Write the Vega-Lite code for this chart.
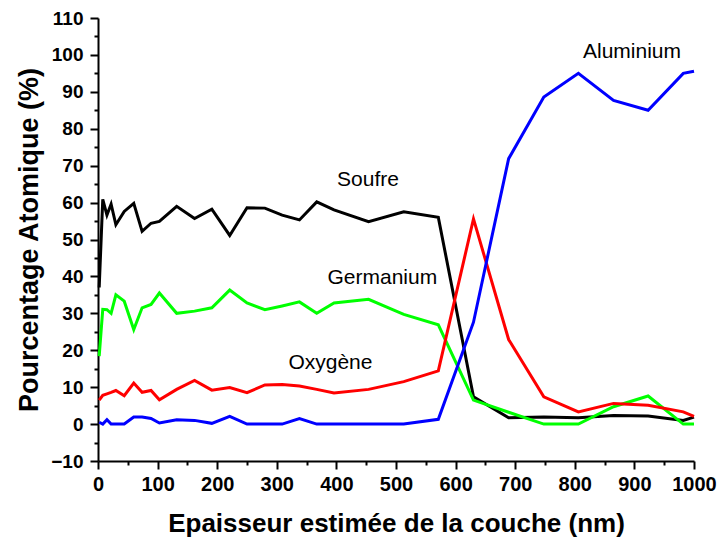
{
  "$schema": "https://vega.github.io/schema/vega-lite/v6.json",
  "width": 596,
  "height": 443,
  "autosize": "none",
  "padding": {"left": 98, "top": 18, "right": 31, "bottom": 86},
  "background": "white",
  "config": {"view": {"stroke": null}, "font": "Liberation Sans"},
  "datasets": {
    "profile": [
      {"x": 2, "el": "Soufre", "v": 37}, {"x": 2, "el": "Germanium", "v": 18.4}, {"x": 2, "el": "Oxygène", "v": 6.5}, {"x": 2, "el": "Aluminium", "v": 0.5},
      {"x": 8, "el": "Soufre", "v": 60.9}, {"x": 8, "el": "Germanium", "v": 31.1}, {"x": 8, "el": "Oxygène", "v": 7.8}, {"x": 8, "el": "Aluminium", "v": 0},
      {"x": 15, "el": "Soufre", "v": 56.6}, {"x": 15, "el": "Germanium", "v": 31.0}, {"x": 15, "el": "Oxygène", "v": 8.2}, {"x": 15, "el": "Aluminium", "v": 1.2},
      {"x": 22, "el": "Soufre", "v": 59.6}, {"x": 22, "el": "Germanium", "v": 30.0}, {"x": 22, "el": "Oxygène", "v": 8.6}, {"x": 22, "el": "Aluminium", "v": 0},
      {"x": 30, "el": "Soufre", "v": 54.0}, {"x": 30, "el": "Germanium", "v": 35.0}, {"x": 30, "el": "Oxygène", "v": 9.1}, {"x": 30, "el": "Aluminium", "v": 0},
      {"x": 44, "el": "Soufre", "v": 57.6}, {"x": 44, "el": "Germanium", "v": 33.3}, {"x": 44, "el": "Oxygène", "v": 7.7}, {"x": 44, "el": "Aluminium", "v": 0},
      {"x": 60, "el": "Soufre", "v": 59.8}, {"x": 60, "el": "Germanium", "v": 25.6}, {"x": 60, "el": "Oxygène", "v": 11.1}, {"x": 60, "el": "Aluminium", "v": 1.9},
      {"x": 74, "el": "Soufre", "v": 52.2}, {"x": 74, "el": "Germanium", "v": 31.5}, {"x": 74, "el": "Oxygène", "v": 8.6}, {"x": 74, "el": "Aluminium", "v": 1.9},
      {"x": 89, "el": "Soufre", "v": 54.4}, {"x": 89, "el": "Germanium", "v": 32.4}, {"x": 89, "el": "Oxygène", "v": 9.1}, {"x": 89, "el": "Aluminium", "v": 1.5},
      {"x": 103, "el": "Soufre", "v": 54.9}, {"x": 103, "el": "Germanium", "v": 35.5}, {"x": 103, "el": "Oxygène", "v": 6.6}, {"x": 103, "el": "Aluminium", "v": 0.3},
      {"x": 132, "el": "Soufre", "v": 59.0}, {"x": 132, "el": "Germanium", "v": 30.0}, {"x": 132, "el": "Oxygène", "v": 9.4}, {"x": 132, "el": "Aluminium", "v": 1.2},
      {"x": 162, "el": "Soufre", "v": 55.7}, {"x": 162, "el": "Germanium", "v": 30.6}, {"x": 162, "el": "Oxygène", "v": 11.8}, {"x": 162, "el": "Aluminium", "v": 1.0},
      {"x": 191, "el": "Soufre", "v": 58.2}, {"x": 191, "el": "Germanium", "v": 31.5}, {"x": 191, "el": "Oxygène", "v": 9.2}, {"x": 191, "el": "Aluminium", "v": 0.2},
      {"x": 221, "el": "Soufre", "v": 51.1}, {"x": 221, "el": "Germanium", "v": 36.3}, {"x": 221, "el": "Oxygène", "v": 9.9}, {"x": 221, "el": "Aluminium", "v": 2.1},
      {"x": 250, "el": "Soufre", "v": 58.6}, {"x": 250, "el": "Germanium", "v": 32.8}, {"x": 250, "el": "Oxygène", "v": 8.5}, {"x": 250, "el": "Aluminium", "v": 0},
      {"x": 280, "el": "Soufre", "v": 58.5}, {"x": 280, "el": "Germanium", "v": 31.0}, {"x": 280, "el": "Oxygène", "v": 10.6}, {"x": 280, "el": "Aluminium", "v": 0},
      {"x": 309, "el": "Soufre", "v": 56.6}, {"x": 309, "el": "Germanium", "v": 32.0}, {"x": 309, "el": "Oxygène", "v": 10.7}, {"x": 309, "el": "Aluminium", "v": 0},
      {"x": 338, "el": "Soufre", "v": 55.3}, {"x": 338, "el": "Germanium", "v": 33.1}, {"x": 338, "el": "Oxygène", "v": 10.3}, {"x": 338, "el": "Aluminium", "v": 1.5},
      {"x": 367, "el": "Soufre", "v": 60.2}, {"x": 367, "el": "Germanium", "v": 30.0}, {"x": 367, "el": "Oxygène", "v": 9.4}, {"x": 367, "el": "Aluminium", "v": 0},
      {"x": 396, "el": "Soufre", "v": 58.0}, {"x": 396, "el": "Germanium", "v": 32.8}, {"x": 396, "el": "Oxygène", "v": 8.4}, {"x": 396, "el": "Aluminium", "v": 0},
      {"x": 454, "el": "Soufre", "v": 54.8}, {"x": 454, "el": "Germanium", "v": 33.8}, {"x": 454, "el": "Oxygène", "v": 9.4}, {"x": 454, "el": "Aluminium", "v": 0},
      {"x": 513, "el": "Soufre", "v": 57.5}, {"x": 513, "el": "Germanium", "v": 29.7}, {"x": 513, "el": "Oxygène", "v": 11.5}, {"x": 513, "el": "Aluminium", "v": 0},
      {"x": 571, "el": "Soufre", "v": 56.0}, {"x": 571, "el": "Germanium", "v": 26.9}, {"x": 571, "el": "Oxygène", "v": 14.4}, {"x": 571, "el": "Aluminium", "v": 1.3},
      {"x": 630, "el": "Soufre", "v": 7.4}, {"x": 630, "el": "Germanium", "v": 6.5}, {"x": 630, "el": "Oxygène", "v": 55.6}, {"x": 630, "el": "Aluminium", "v": 27.6},
      {"x": 689, "el": "Soufre", "v": 1.7}, {"x": 689, "el": "Germanium", "v": 3.2}, {"x": 689, "el": "Oxygène", "v": 22.9}, {"x": 689, "el": "Aluminium", "v": 71.9},
      {"x": 748, "el": "Soufre", "v": 1.9}, {"x": 748, "el": "Germanium", "v": 0}, {"x": 748, "el": "Oxygène", "v": 7.4}, {"x": 748, "el": "Aluminium", "v": 88.6},
      {"x": 806, "el": "Soufre", "v": 1.7}, {"x": 806, "el": "Germanium", "v": 0}, {"x": 806, "el": "Oxygène", "v": 3.3}, {"x": 806, "el": "Aluminium", "v": 95.0},
      {"x": 865, "el": "Soufre", "v": 2.3}, {"x": 865, "el": "Germanium", "v": 4.7}, {"x": 865, "el": "Oxygène", "v": 5.6}, {"x": 865, "el": "Aluminium", "v": 87.7},
      {"x": 923, "el": "Soufre", "v": 2.2}, {"x": 923, "el": "Germanium", "v": 7.6}, {"x": 923, "el": "Oxygène", "v": 5.1}, {"x": 923, "el": "Aluminium", "v": 85.0},
      {"x": 982, "el": "Soufre", "v": 1.0}, {"x": 982, "el": "Germanium", "v": 0}, {"x": 982, "el": "Oxygène", "v": 3.3}, {"x": 982, "el": "Aluminium", "v": 95.0},
      {"x": 1000, "el": "Soufre", "v": 1.9}, {"x": 1000, "el": "Germanium", "v": 0}, {"x": 1000, "el": "Oxygène", "v": 2.1}, {"x": 1000, "el": "Aluminium", "v": 95.6}
    ],
    "labels": [
      {"x": 453, "v": 66.2, "label": "Soufre"},
      {"x": 477, "v": 39.7, "label": "Germanium"},
      {"x": 390, "v": 16.5, "label": "Oxygène"},
      {"x": 896, "v": 100.9, "label": "Aluminium"}
    ]
  },
  "resolve": {"axis": {"x": "independent", "y": "independent"}},
  "layer": [
    {
      "data": {"name": "profile"},
      "mark": {"type": "line", "opacity": 0},
      "encoding": {
        "x": {"field": "x", "type": "quantitative", "scale": {"domain": [0, 1000], "nice": false, "zero": false},
          "axis": {"orient": "bottom", "values": [50, 150, 250, 350, 450, 550, 650, 750, 850, 950], "labels": false, "domain": false, "grid": false, "ticks": true, "tickSize": 4, "tickWidth": 2, "tickColor": "black", "title": null}},
        "y": {"field": "v", "type": "quantitative", "scale": {"domain": [-10, 110], "nice": false, "zero": false},
          "axis": {"orient": "left", "values": [-5, 5, 15, 25, 35, 45, 55, 65, 75, 85, 95, 105], "labels": false, "domain": false, "grid": false, "tickSize": 4, "tickWidth": 2, "tickColor": "black", "title": null}},
        "detail": {"field": "el"}
      }
    },
    {
      "data": {"name": "profile"},
      "mark": {"type": "line", "strokeWidth": 3, "strokeJoin": "miter"},
      "encoding": {
        "x": {"field": "x", "type": "quantitative", "scale": {"domain": [0, 1000], "nice": false, "zero": false},
          "axis": {"orient": "bottom", "values": [0, 100, 200, 300, 400, 500, 600, 700, 800, 900, 1000], "format": "d", "grid": false, "domainColor": "black", "domainWidth": 2, "tickColor": "black", "tickWidth": 2, "tickSize": 8,
            "labelFont": "Liberation Sans", "labelFontWeight": "bold", "labelFontSize": 20, "labelColor": "black", "labelPadding": 5, "labelFlush": false,
            "title": "Epaisseur estimée de la couche (nm)", "titleFont": "Liberation Sans", "titleFontWeight": "bold", "titleFontSize": 26, "titleColor": "black", "titlePadding": 16}},
        "y": {"field": "v", "type": "quantitative", "scale": {"domain": [-10, 110], "nice": false, "zero": false},
          "axis": {"orient": "left", "values": [-10, 0, 10, 20, 30, 40, 50, 60, 70, 80, 90, 100, 110], "grid": false, "domainColor": "black", "domainWidth": 2, "tickColor": "black", "tickWidth": 2, "tickSize": 8,
            "labelFont": "Liberation Sans", "labelFontWeight": "bold", "labelFontSize": 19, "labelColor": "black", "labelPadding": 7, "labelFlush": false,
            "title": "Pourcentage Atomique (%)", "titleFont": "Liberation Sans", "titleFontWeight": "bold", "titleFontSize": 27, "titleColor": "black", "titlePadding": 7}},
        "color": {"field": "el", "type": "nominal", "scale": {"domain": ["Soufre", "Germanium", "Oxygène", "Aluminium"], "range": ["#000000", "#00ff00", "#ff0000", "#0000ff"]}, "legend": null},
        "order": {"field": "x", "type": "quantitative"}
      }
    },
    {
      "data": {"name": "labels"},
      "mark": {"type": "text", "font": "Liberation Sans", "fontSize": 21, "color": "black", "align": "center", "baseline": "middle"},
      "encoding": {
        "x": {"field": "x", "type": "quantitative", "axis": null},
        "y": {"field": "v", "type": "quantitative", "axis": null},
        "text": {"field": "label"}
      }
    }
  ]
}
